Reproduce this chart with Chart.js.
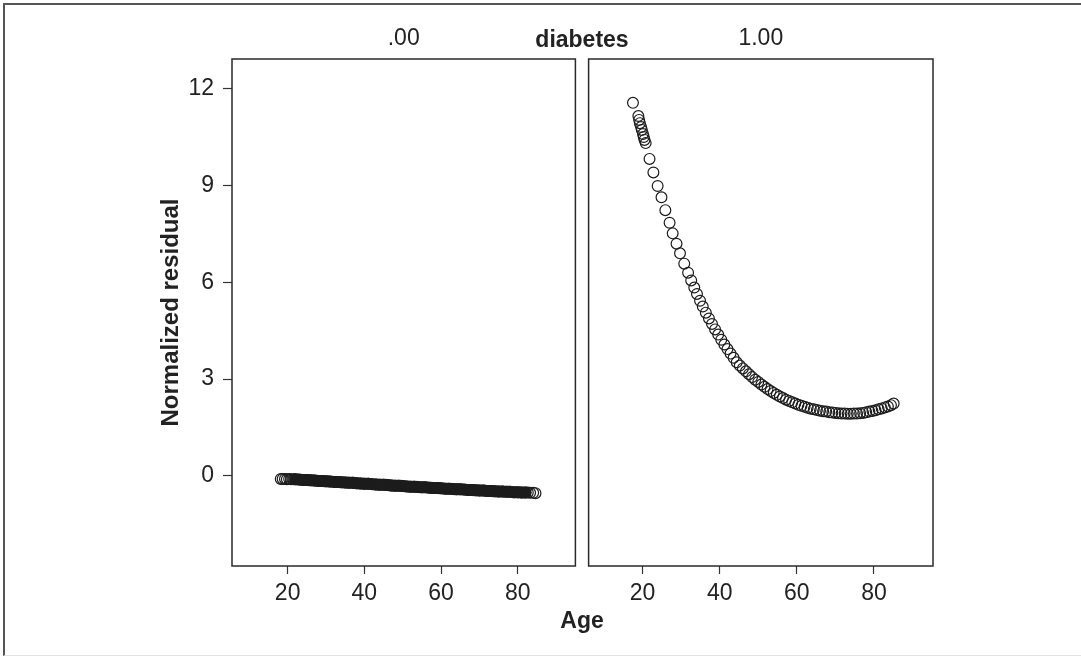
<!DOCTYPE html>
<html>
<head>
<meta charset="utf-8">
<script src="https://cdn.jsdelivr.net/npm/chart.js@4.4.1/dist/chart.umd.min.js"></script>
<style>
  html, body { margin: 0; padding: 0; background: #fff; }
  #wrap { position: relative; width: 1081px; height: 656px; overflow: hidden;
          font-family: 'Liberation Sans', Arial, Helvetica, sans-serif; color: #222; }
  #frame { position: absolute; left: 3px; top: 3px; right: -10px; bottom: 0;
           border-left: 2px solid #555; border-top: 2px solid #555; border-bottom: 1px solid #e2e2e2; }
  .lbl { position: absolute; font-size: 23px; font-weight: bold; line-height: 26px;
         white-space: nowrap; transform: translateX(-50%); }
  #cLeft { position: absolute; left: 0; top: 0; }
  #cRight { position: absolute; left: 582px; top: 0; }
</style>
</head>
<body>
<div id="wrap">
  <div id="frame"></div>
  <canvas id="cLeft" width="582" height="656"></canvas>
  <canvas id="cRight" width="360" height="656"></canvas>
  <div class="lbl" style="left:582px; top:26px;">diabetes</div>
  <div class="lbl" style="left:582px; top:607px;">Age</div>
</div>
<script>
// dados
const panelLabels = ['.00', '1.00'];
const xTicks = [20, 40, 60, 80];
const yTicks = [0, 3, 6, 9, 12];

// diabetes = .00
const ageNoDiab = [18.2, 18.7, 19.3, 19.8, 20.4, 20.9, 21.5,
  22, 23, 24, 25, 26, 27, 28, 29, 30, 31, 32, 33, 34, 35, 36, 37, 38, 39, 40,
  41, 42, 43, 44, 45, 46, 47, 48, 49, 50, 51, 52, 53, 54, 55, 56, 57, 58, 59, 60,
  61, 62, 63, 64, 65, 66, 67, 68, 69, 70, 71, 72, 73, 74, 75, 76, 77, 78, 79, 80,
  81, 82, 82.6, 83.2, 84.0, 84.6];
const residNoDiab = [-0.10, -0.10, -0.10, -0.11, -0.10, -0.11, -0.11,
  -0.11, -0.12, -0.13, -0.13, -0.14, -0.15, -0.16, -0.16, -0.17, -0.18, -0.19, -0.19, -0.20, -0.21, -0.22, -0.22, -0.23, -0.24, -0.25,
  -0.25, -0.26, -0.27, -0.28, -0.28, -0.29, -0.30, -0.31, -0.31, -0.32, -0.33, -0.34, -0.34, -0.35, -0.36, -0.36, -0.37, -0.38, -0.38, -0.39,
  -0.40, -0.40, -0.41, -0.42, -0.42, -0.43, -0.44, -0.44, -0.45, -0.46, -0.46, -0.47, -0.47, -0.48, -0.49, -0.49, -0.50, -0.50, -0.51, -0.51,
  -0.52, -0.52, -0.52, -0.53, -0.53, -0.54];

// diabetes = 1.00
const ageDiab = [17.5, 18.9, 19.1, 19.3, 19.6, 19.8, 20.1, 20.3, 20.5, 20.8,
  21.8, 22.8, 23.9, 24.9, 25.9, 27.0, 27.8, 28.8, 29.7, 30.8, 31.8,
  32.6, 33.4, 34.1, 34.9, 35.6, 36.4, 37.2, 38.0, 38.8, 39.6, 40.4, 41.2, 42.0, 42.8, 43.6,
  44.4, 45.2, 46.0, 46.8, 47.6, 48.4, 49.2, 50.0, 50.8, 51.6, 52.4, 53.2, 54.0, 54.8, 55.6,
  56.4, 57.2, 58.0, 58.8, 59.6, 60.4, 61.2, 62.0, 62.8, 63.6, 64.4, 65.2, 66.0, 66.8, 67.6,
  68.4, 69.2, 70.0, 70.8, 71.6, 72.4, 73.2, 74.0, 74.8, 75.6, 76.4, 77.2, 78.0, 78.8, 79.6,
  80.4, 81.2, 82.0, 82.8, 83.6, 84.4, 85.1];
const residDiab = [11.57, 11.16, 11.04, 10.94, 10.82, 10.73, 10.60, 10.51, 10.42, 10.32,
  9.83, 9.41, 8.99, 8.64, 8.24, 7.85, 7.52, 7.20, 6.90, 6.58, 6.30,
  6.06, 5.84, 5.64, 5.43, 5.25, 5.06, 4.88, 4.71, 4.54, 4.38, 4.22, 4.07, 3.93, 3.79, 3.66,
  3.52, 3.42, 3.33, 3.24, 3.15, 3.06, 2.98, 2.91, 2.83, 2.76, 2.69, 2.63, 2.57, 2.51, 2.46,
  2.41, 2.36, 2.32, 2.28, 2.24, 2.20, 2.17, 2.14, 2.11, 2.08, 2.06, 2.04, 2.02, 2.00, 1.99,
  1.97, 1.96, 1.95, 1.94, 1.93, 1.93, 1.92, 1.92, 1.93, 1.93, 1.94, 1.95, 1.97, 1.99, 2.01,
  2.03, 2.06, 2.09, 2.12, 2.15, 2.19, 2.24];

const fonte = "'Liberation Sans', Arial, Helvetica, sans-serif";
const tinta = '#1c1c1c';

// moldura do painel
const caixaPainel = {
  id: 'caixaPainel',
  afterDraw(chart) {
    const { ctx, chartArea: a } = chart;
    ctx.save();
    ctx.strokeStyle = '#2a2a2a';
    ctx.lineWidth = 1.5;
    ctx.strokeRect(a.left, a.top, a.width, a.height);
    ctx.restore();
  }
};

function pontos(ages, resids) {
  return ages.map((a, i) => ({ x: a, y: resids[i] }));
}

function grafico(id, titulo, datasets, comY, xMin, xMax, pad) {
  const ctx = document.getElementById(id);
  const eixoY = {
    display: comY,
    min: -2.8, max: 12.93,
    afterBuildTicks: s => { s.ticks = yTicks.map(v => ({ value: v })); },
    border: { display: false },
    grid: { drawOnChartArea: false, drawTicks: true, tickLength: 9, tickColor: '#333', tickWidth: 1.2 },
    ticks: { color: '#222', padding: 9, font: { family: fonte, size: 23 } },
    title: {
      display: true, text: 'Normalized residual', color: '#222',
      font: { family: fonte, size: 24, weight: 'bold' },
      padding: { top: 156.6, bottom: 0 }
    }
  };
  if (comY) eixoY.afterFit = s => { s.width = 232; };
  return new Chart(ctx, {
    type: 'scatter',
    data: { datasets },
    options: {
      responsive: false,
      animation: false,
      events: [],
      layout: { padding: pad },
      plugins: {
        legend: { display: false },
        tooltip: { enabled: false },
        title: {
          display: true, text: titulo, fullSize: false, color: '#222',
          font: { family: fonte, size: 23, weight: 'normal' },
          padding: { top: 25, bottom: 6.4 }
        }
      },
      scales: {
        x: {
          min: xMin, max: xMax,
          afterBuildTicks: s => { s.ticks = xTicks.map(v => ({ value: v })); },
          afterFit: s => { s.height = 90; },
          border: { display: false },
          grid: { drawOnChartArea: false, drawTicks: true, tickLength: 8, tickColor: '#333', tickWidth: 1.2 },
          ticks: { color: '#222', padding: 6, maxRotation: 0, font: { family: fonte, size: 23 } }
        },
        y: eixoY
      }
    },
    plugins: [caixaPainel]
  });
}

const estiloPonto = {
  showLine: false,
  pointStyle: 'circle',
  pointRadius: 5.4,
  pointBorderWidth: 1.2,
  pointBorderColor: tinta,
  pointBackgroundColor: 'rgba(0,0,0,0)'
};

// faixa densa (muitos casos sobrepostos) no painel .00
const faixa = pontos(ageNoDiab, residNoDiab).filter(p => p.x >= 22 && p.x <= 82);

grafico('cLeft', panelLabels[0], [
  Object.assign({ data: pontos(ageNoDiab, residNoDiab) }, estiloPonto),
  { data: faixa, showLine: true, pointRadius: 0, borderWidth: 12, borderColor: tinta,
    borderCapStyle: 'round', borderJoinStyle: 'round', tension: 0 }
], true, 5.5, 95, { left: 0, right: 5, top: 0, bottom: 0 });

grafico('cRight', panelLabels[1], [
  Object.assign({ data: pontos(ageDiab, residDiab) }, estiloPonto)
], false, 6, 95.3, { left: 6, right: 9, top: 0, bottom: 0 });
</script>
</body>
</html>
